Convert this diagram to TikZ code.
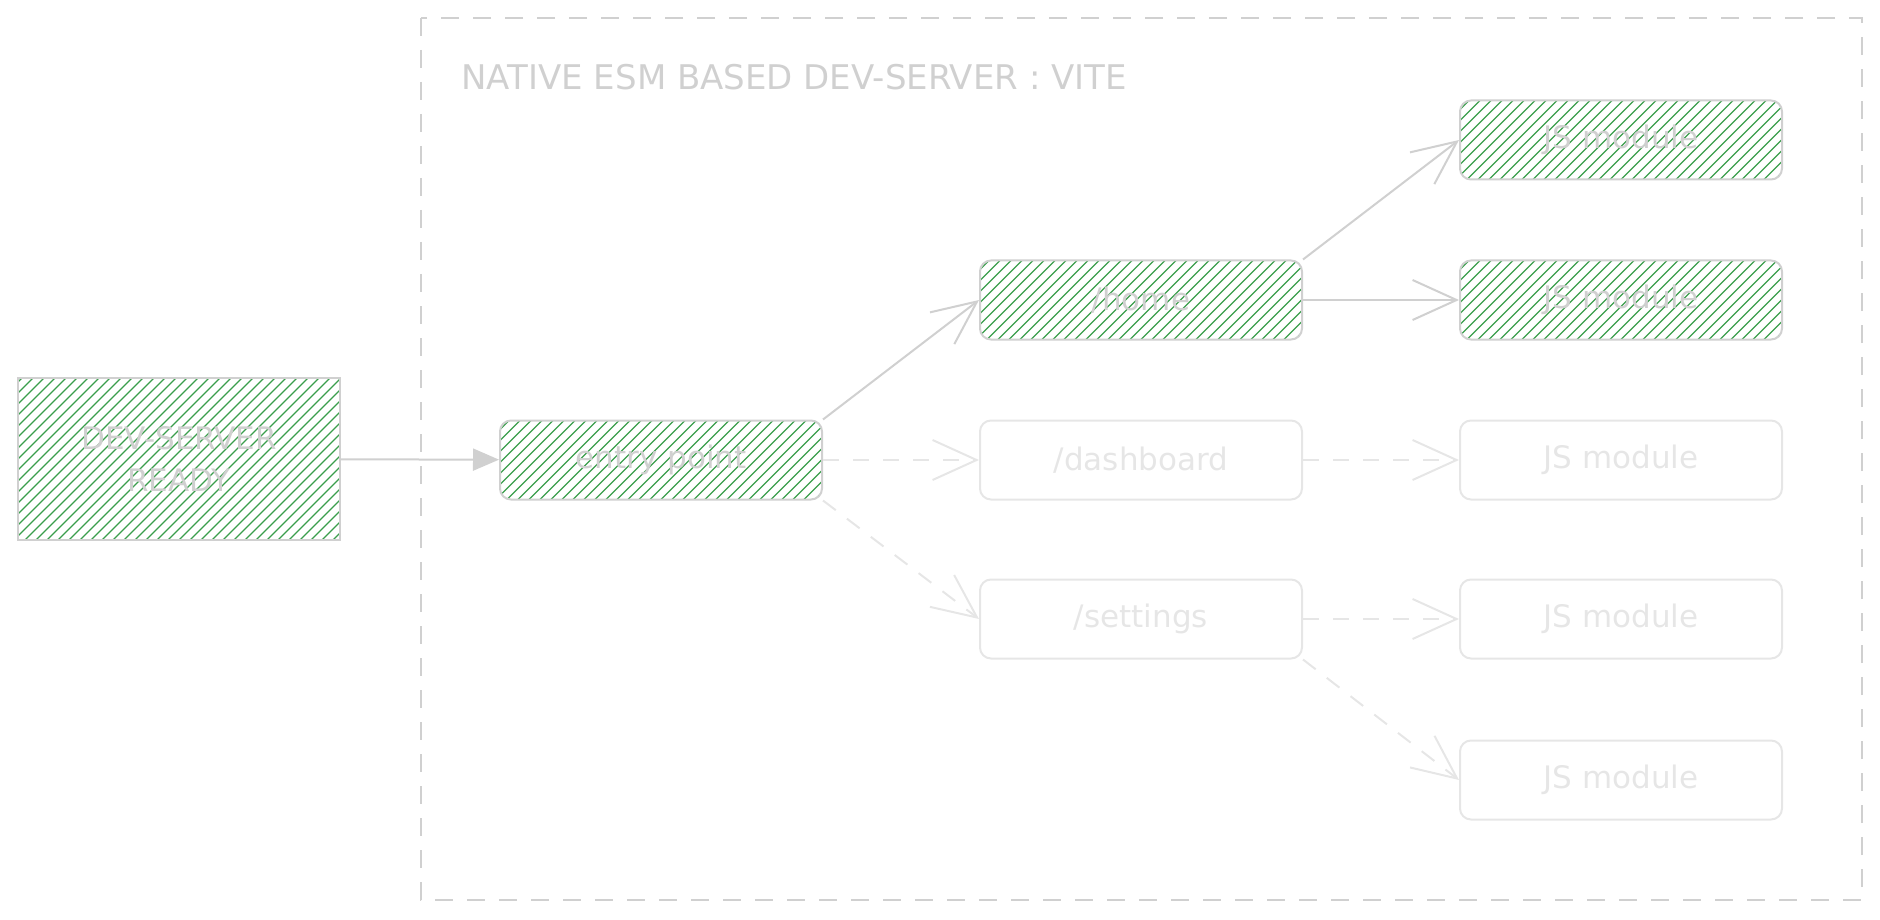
\documentclass[tikz,border=0pt]{standalone}
\usepackage{fontspec}
\setmainfont{DejaVu Sans}
\usetikzlibrary{arrows.meta}
\definecolor{edge}{HTML}{D0D0D0}
\definecolor{faint}{HTML}{E6E6E6}
\definecolor{hatch}{HTML}{3A9E4C}

\begin{document}
\begin{tikzpicture}[x=1pt,y=-1pt,
    label font/.style={font=\fontsize{31}{42}\selectfont},
    box/.style={draw=edge, line width=2pt, rounded corners=11pt, minimum width=322pt,
        minimum height=79pt, text=edge, label font},
    faded/.style={box, draw=faint, text=faint},
    hatched/.style={path picture={
        \foreach \i in {-400,-389,...,400}
            \draw[hatch, line width=1.3pt] ([xshift=\i pt]path picture bounding box.south west) -- ++(400pt,400pt);}},
    link/.style={draw=edge, line width=2pt, -{Straight Barb[length=44pt,width=40pt]}},
    dimlink/.style={link, draw=faint, dash pattern=on 16pt off 14pt}]
    \useasboundingbox (0,0) rectangle (1880,920);

    % frame of the dev-server
    \draw[edge, line width=2pt, dash pattern=on 18pt off 14pt] (421,18) rectangle (1862,900);
    \node[anchor=west, text=edge, font=\fontsize{34}{40}\selectfont] (title) at (458,77) {NATIVE ESM BASED DEV-SERVER : VITE};

    \node[box, hatched, rounded corners=0pt, minimum width=322pt, minimum height=162pt, align=center] (ready) at (179,459) {DEV-SERVER\\READY};

    \node[box, hatched] (entry) at (661,460) {entry point};
    \node[box, hatched] (home) at (1141,300) {/home};
    \node[faded] (dashboard) at (1141,460) {/dashboard};
    \node[faded] (settings) at (1141,619) {/settings};

    \node[box, hatched] (jsa) at (1621,140) {JS module};
    \node[box, hatched] (jsb) at (1621,300) {JS module};
    \node[faded] (jsc) at (1621,460) {JS module};
    \node[faded] (jsd) at (1621,619) {JS module};
    \node[faded] (jse) at (1621,780) {JS module};

    \draw[edge, line width=2pt, -{Triangle[length=26pt,width=22pt]}] (ready) -- (entry);
    \draw[link] (entry.north east) -- (home.west);
    \draw[dimlink] (entry.east) -- (dashboard.west);
    \draw[dimlink] (entry.south east) -- (settings.west);
    \draw[link] (home.north east) -- (jsa.west);
    \draw[link] (home.east) -- (jsb.west);
    \draw[dimlink] (dashboard.east) -- (jsc.west);
    \draw[dimlink] (settings.east) -- (jsd.west);
    \draw[dimlink] (settings.south east) -- (jse.west);
\end{tikzpicture}
\end{document}
